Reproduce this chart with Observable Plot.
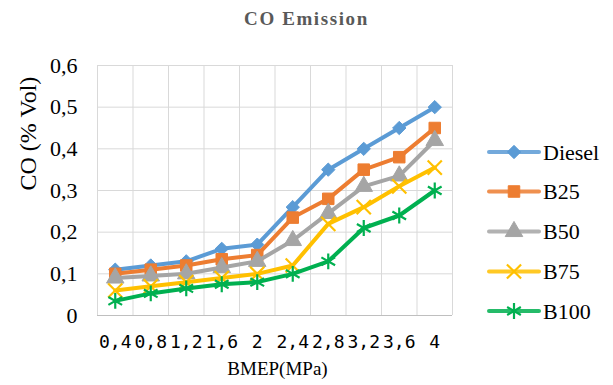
<!DOCTYPE html>
<html><head><meta charset="utf-8">
<script src="https://cdn.jsdelivr.net/npm/d3@7"></script>
<script src="https://cdn.jsdelivr.net/npm/@observablehq/plot@0.6"></script>
<style>
body{margin:0;background:#fff;}
#wrap{position:relative;width:613px;height:385px;overflow:hidden;background:#fff;}
#title{position:absolute;left:0;top:8px;width:613px;text-align:center;font-weight:bold;font-size:19px;font-family:"Liberation Serif",serif;color:#595959;letter-spacing:1.6px;}
#chart{position:absolute;left:0;top:40px;}
#legend{position:absolute;left:0;top:0;}
</style>
</head><body>
<div id="wrap">
  <div id="title">CO Emission</div>
  <div id="chart"></div>
  <svg id="legend" width="613" height="385"></svg>
</div>
<script>
const categories = ["0,4","0,8","1,2","1,6","2","2,4","2,8","3,2","3,6","4"];
const seriesNames = ["Diesel","B25","B50","B75","B100"];
const diesel = [0.11, 0.12, 0.13, 0.16, 0.17, 0.26, 0.35, 0.40, 0.45, 0.50];
const b25    = [0.10, 0.11, 0.12, 0.135, 0.145, 0.235, 0.28, 0.35, 0.38, 0.45];
const b50    = [0.09, 0.095, 0.10, 0.115, 0.13, 0.18, 0.245, 0.31, 0.335, 0.42];
const b75    = [0.06, 0.07, 0.08, 0.09, 0.10, 0.12, 0.22, 0.26, 0.31, 0.355];
const b100   = [0.035, 0.053, 0.065, 0.075, 0.08, 0.10, 0.13, 0.21, 0.24, 0.30];
const yTicks = [0, 0.1, 0.2, 0.3, 0.4, 0.5, 0.6];
const xTitle = "BMEP(MPa)";
const yTitle = "CO (% Vol)";

const seriesValues = [diesel, b25, b50, b75, b100];
const colors = ["#5B9BD5","#ED7D31","#A5A5A5","#FFC000","#00B050"];
const symbols = ["diamond2","square","triangle","times","asterisk"];
const filled = [true,true,true,false,false];
const sizes = [6,6.5,6.5,6.5,7.5];

const SERIF = "'Liberation Serif', serif";
const MONO = "'DejaVu Sans Mono', monospace";

const rows = [];
seriesNames.forEach((s, si) => seriesValues[si].forEach((v, i) => rows.push({series: s, si, xi: i + 0.5, cat: categories[i], value: v})));

const fmtY = d => d === 0 ? "0" : d.toFixed(1).replace(".", ",");

const marks = [
  Plot.ruleY(yTicks.slice(1), {stroke: "#d9d9d9", strokeWidth: 1}),
  Plot.ruleX(d3.range(categories.length + 1), {stroke: "#d9d9d9", strokeWidth: 1}),
  Plot.ruleY([0], {stroke: "#bfbfbf", strokeWidth: 1}),
  Plot.axisY({ticks: yTicks, tickFormat: fmtY, tickSize: 0, tickPadding: 20, fontSize: 22, label: null}),
  Plot.axisX({ticks: categories.map((c, i) => i + 0.5), tickFormat: d => categories[Math.round(d - 0.5)], tickSize: 0, tickPadding: 20, fontSize: 18, label: null}),
  Plot.text([xTitle], {frameAnchor: "bottom", dy: 53, dx: 2.5, lineAnchor: "middle", fontSize: 19, fill: "#000"}),
  Plot.text([yTitle], {frameAnchor: "left", dx: -69, rotate: -90, lineAnchor: "middle", fontSize: 24, fill: "#000"})
];
seriesNames.forEach((s, si) => {
  const d = rows.filter(r => r.si === si);
  marks.push(Plot.line(d, {x: "xi", y: "value", stroke: colors[si], strokeWidth: 4, strokeLinejoin: "round", strokeLinecap: "round"}));
  marks.push(Plot.dot(d, filled[si]
    ? {x: "xi", y: "value", symbol: () => symbols[si], r: sizes[si], fill: colors[si], stroke: colors[si], strokeWidth: 1}
    : {x: "xi", y: "value", symbol: () => symbols[si], r: sizes[si], fill: "none", stroke: colors[si], strokeWidth: 2.2}));
});

const chart = Plot.plot({
  width: 613, height: 345,
  marginTop: 25, marginBottom: 70, marginLeft: 97, marginRight: 161,
  x: {type: "linear", domain: [0, categories.length], axis: null},
  y: {domain: [0, 0.6], axis: null},
  symbol: {type: "identity"},
  style: {background: "#fff", color: "#000", overflow: "visible", fontFamily: SERIF},
  marks
});
document.getElementById("chart").append(chart);
// force fonts on text elements
d3.select(chart).selectAll("text").style("font-family", SERIF);
d3.select(chart).selectAll("g[aria-label]").each(function() {
  const lab = this.getAttribute("aria-label") || "";
  if (lab.startsWith("x-axis")) d3.select(this).selectAll("text").style("font-family", MONO);
});

// legend
const leg = d3.select("#legend");
const rowY = [152, 191.5, 231.5, 271.5, 311];
const symMap = {diamond2: d3.symbolDiamond2, square: d3.symbolSquare, triangle: d3.symbolTriangle, times: d3.symbolTimes, asterisk: d3.symbolAsterisk};
seriesNames.forEach((s, si) => {
  const g = leg.append("g").attr("transform", `translate(0,${rowY[si]})`);
  g.append("line").attr("x1", 489).attr("x2", 539).attr("y1", 0).attr("y2", 0)
    .attr("stroke", colors[si]).attr("stroke-width", 4).attr("stroke-linecap", "round").attr("opacity", 0.85);
  const size = Math.PI * sizes[si] * sizes[si];
  g.append("path").attr("transform", "translate(514,0)")
    .attr("d", d3.symbol(symMap[symbols[si]], size)())
    .attr("fill", filled[si] ? colors[si] : "none")
    .attr("stroke", colors[si]).attr("stroke-width", filled[si] ? 1 : 2.2);
  g.append("text").attr("x", 543).attr("y", 0).attr("dy", "0.35em")
    .style("font-family", SERIF).style("font-size", "22px").attr("fill", "#000").text(s);
});
</script>
</body></html>
